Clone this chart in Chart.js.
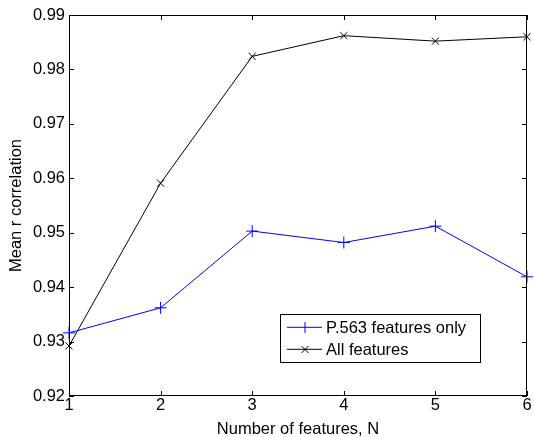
<!DOCTYPE html>
<html>
<head>
<meta charset="utf-8">
<script src="https://cdn.jsdelivr.net/npm/chart.js@4.4.1/dist/chart.umd.min.js"></script>
<style>
  html, body { margin: 0; padding: 0; background: #fff; }
  #wrap { width: 534px; height: 437px; }
</style>
</head>
<body>
<div id="wrap"><canvas id="chart" width="534" height="437"></canvas></div>
<script>
// valeurs
const featureCounts = [1, 2, 3, 4, 5, 6];
const p563Only = [0.9316, 0.9362, 0.9503, 0.9482, 0.9512, 0.9419];
const allFeatures = [0.9292, 0.9591, 0.9824, 0.9862, 0.9852, 0.9860];
const yTicks = [0.92, 0.93, 0.94, 0.95, 0.96, 0.97, 0.98, 0.99];

const FONT = '"Liberation Sans", Arial, Helvetica, sans-serif';
const FONT_SIZE = 16.5;

const toPoints = (vals) => vals.map((v, i) => ({ x: featureCounts[i], y: v }));

// cadre façon MATLAB : boîte complète + graduations vers l'intérieur
const framePlugin = {
  id: 'frame',
  afterDatasetsDraw(chart) {
    const { ctx, chartArea: a, scales } = chart;
    ctx.save();
    ctx.strokeStyle = '#000';
    ctx.lineWidth = 1;
    ctx.strokeRect(Math.round(a.left) + 0.5, Math.round(a.top) + 0.5,
      Math.round(a.right - a.left) - 1, Math.round(a.bottom - a.top) - 1);
    const len = 5;
    ctx.beginPath();
    scales.x.ticks.forEach((t) => {
      const px = Math.round(scales.x.getPixelForValue(t.value)) + 0.5;
      ctx.moveTo(px, a.bottom); ctx.lineTo(px, a.bottom - len);
      ctx.moveTo(px, a.top); ctx.lineTo(px, a.top + len);
    });
    scales.y.ticks.forEach((t) => {
      const py = Math.round(scales.y.getPixelForValue(t.value)) + 0.5;
      ctx.moveTo(a.left, py); ctx.lineTo(a.left + len, py);
      ctx.moveTo(a.right, py); ctx.lineTo(a.right - len, py);
    });
    ctx.stroke();
    ctx.restore();
  },
  afterDraw(chart) {
    // légende dans la zone de tracé, en bas à droite
    const { ctx, chartArea: a } = chart;
    const x0 = Math.round(a.left) + 211, y0 = Math.round(a.top) + 299, w = 200, h = 48;
    ctx.save();
    ctx.fillStyle = '#fff';
    ctx.fillRect(x0, y0, w, h);
    ctx.strokeStyle = '#000';
    ctx.lineWidth = 1;
    ctx.strokeRect(x0 + 0.5, y0 + 0.5, w, h);
    chart.data.datasets.forEach((ds, i) => {
      const cy = Math.round(y0 + 13 + i * 21.5);
      const lx0 = x0 + 7, lx1 = x0 + 42, mx = Math.round((lx0 + lx1) / 2);
      ctx.strokeStyle = ds.borderColor;
      ctx.lineWidth = 1;
      ctx.beginPath();
      ctx.moveTo(lx0, cy + 0.3); ctx.lineTo(lx1, cy + 0.3);
      if (ds.pointStyle === 'cross') {
        ctx.moveTo(mx, cy - 5); ctx.lineTo(mx, cy + 6);
      } else {
        ctx.moveTo(mx - 3.5, cy - 3); ctx.lineTo(mx + 3.5, cy + 4);
        ctx.moveTo(mx - 3.5, cy + 4); ctx.lineTo(mx + 3.5, cy - 3);
      }
      ctx.stroke();
      ctx.fillStyle = '#000';
      ctx.font = FONT_SIZE + 'px ' + FONT;
      ctx.textBaseline = 'middle';
      ctx.textAlign = 'left';
      ctx.fillText(ds.label, x0 + 46, cy + 1);
    });
    ctx.restore();
  }
};

new Chart(document.getElementById('chart').getContext('2d'), {
  type: 'line',
  data: {
    datasets: [{
      label: 'P.563 features only',
      data: toPoints(p563Only),
      borderColor: '#0000ff',
      backgroundColor: '#0000ff',
      borderWidth: 1,
      pointStyle: 'cross',
      pointRadius: 6,
      pointBorderWidth: 1,
      pointBorderColor: '#0000ff',
      tension: 0,
      clip: false,
    }, {
      label: 'All features',
      data: toPoints(allFeatures),
      borderColor: '#000000',
      backgroundColor: '#000000',
      borderWidth: 1,
      pointStyle: 'crossRot',
      pointRadius: 5,
      pointBorderWidth: 1,
      pointBorderColor: '#000000',
      tension: 0,
      clip: false,
    }]
  },
  options: {
    responsive: false,
    animation: false,
    events: [],
    layout: { padding: { top: 15, right: 3.5, left: 0, bottom: 0 } },
    plugins: { legend: { display: false }, tooltip: { enabled: false } },
    scales: {
      x: {
        type: 'linear',
        min: 1,
        max: 6,
        afterBuildTicks: (s) => { s.ticks = featureCounts.map((v) => ({ value: v })); },
        afterFit: (s) => { s.height = 41; s.paddingLeft = 0; s.paddingRight = 0; },
        grid: { display: false, drawTicks: false },
        border: { display: false },
        ticks: { color: '#000', font: { family: FONT, size: FONT_SIZE }, padding: 0, maxRotation: 0 },
        title: { display: true, text: 'Number of features, N', color: '#000', font: { family: FONT, size: FONT_SIZE, lineHeight: 1 }, padding: { top: 0, bottom: -1 } },
      },
      y: {
        min: 0.92,
        max: 0.99,
        afterBuildTicks: (s) => { s.ticks = yTicks.map((v) => ({ value: v })); },
        afterFit: (s) => { s.width = 69; s.paddingTop = 0; s.paddingBottom = 0; },
        grid: { display: false, drawTicks: false },
        border: { display: false },
        ticks: { color: '#000', font: { family: FONT, size: FONT_SIZE }, padding: 4, callback: (v) => Number(v).toFixed(2) },
        title: { display: true, text: 'Mean r correlation', color: '#000', font: { family: FONT, size: FONT_SIZE, lineHeight: 1 }, padding: { top: 8, bottom: 0 } },
      }
    }
  },
  plugins: [framePlugin]
});
</script>
</body>
</html>
